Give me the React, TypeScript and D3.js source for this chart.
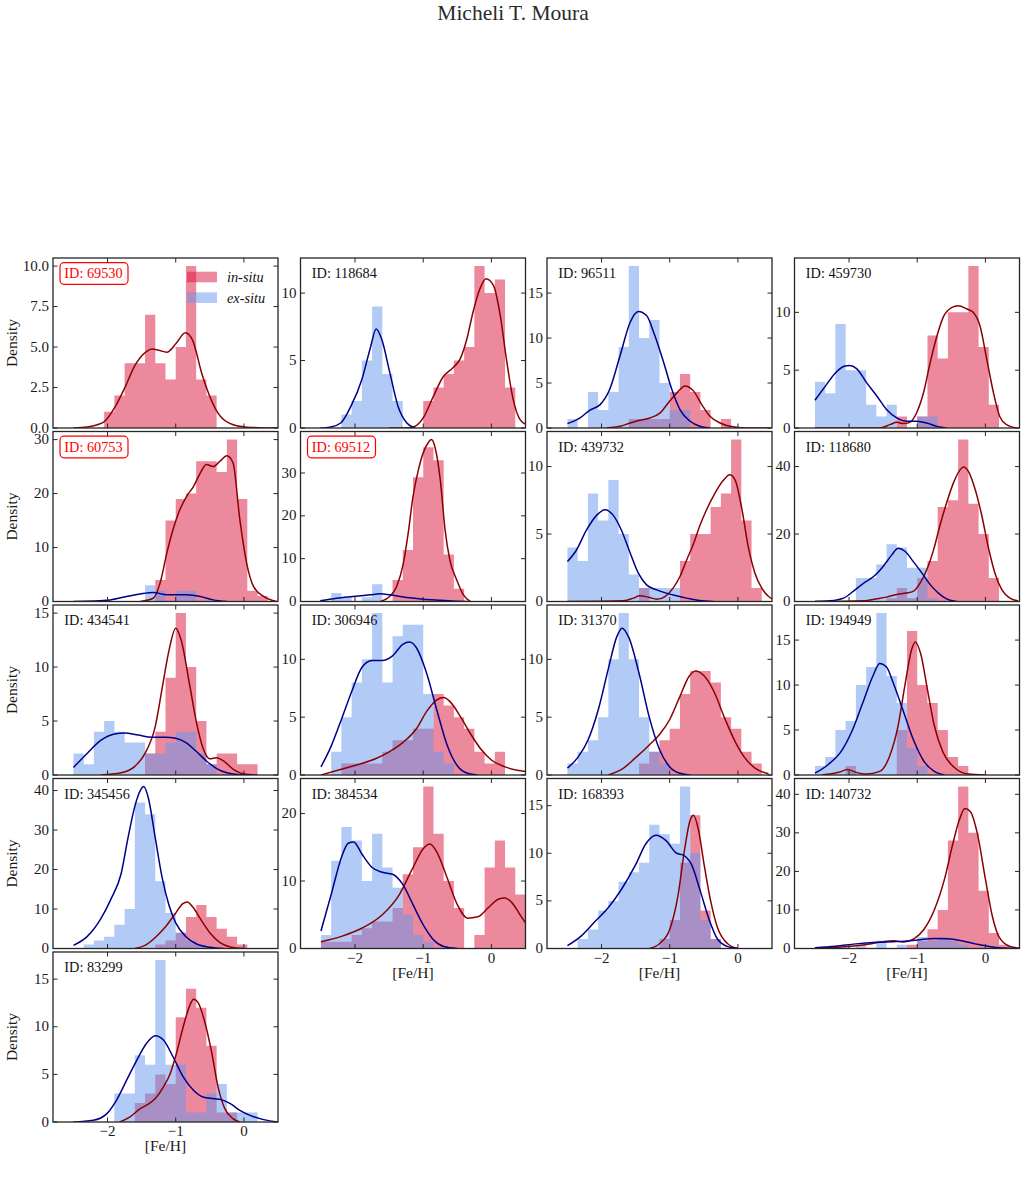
import React from "react";
import * as d3 from "d3";

// ---- chart data -------------------------------------------------------------
const TITLE = "Micheli T. Moura";
const X_LABEL = "[Fe/H]";
const Y_LABEL = "Density";
const LEGEND_LABELS = ["in-situ", "ex-situ"];

const PANEL_IDS = [
  "69530", "118684", "96511", "459730",
  "60753", "69512", "439732", "118680",
  "434541", "306946", "31370", "194949",
  "345456", "384534", "168393", "140732",
  "83299",
];
const HIGHLIGHTED_IDS = ["69530", "60753", "69512"];

const X_DOMAIN: [number, number] = [-2.8, 0.5];
const X_TICKS = [-2, -1, 0];
const Y_TICK_STEP = [2.5, 5, 5, 5, 10, 10, 5, 20, 5, 5, 5, 5, 10, 10, 5, 10, 5];

// histogram bins: BIN_START + k * BIN_WIDTH, k = 0..19
const BIN_START = -2.5;
const BIN_WIDTH = 0.15;

const IN_SITU_COUNTS = [
  [0, 0, 0, 1, 2, 4, 4, 7, 4, 3, 5, 10, 3, 2, 0, 0, 0, 0, 0, 0],
  [0, 0, 0, 0, 0, 0, 0, 0, 0, 0, 2, 3, 4, 5, 6, 12, 10, 11, 3, 0],
  [0, 0, 0, 0, 0, 0, 1, 1, 1, 1, 4, 6, 4, 2, 0, 1, 0, 0, 0, 0],
  [0, 0, 0, 0, 0, 0, 0, 0, 1, 0, 1, 8, 6, 10, 10, 14, 7, 2, 0, 0],
  [0, 0, 0, 0, 0, 0, 0, 0, 4, 15, 19, 20, 26, 26, 24, 30, 19, 2, 1, 0],
  [0, 0, 0, 0, 0, 0, 0, 5, 12, 29, 36, 33, 11, 3, 0, 0, 0, 0, 0, 0],
  [0, 0, 0, 0, 0, 0, 0, 1, 0, 0, 0, 3, 5, 5, 7, 8, 12, 6, 1, 0],
  [0, 0, 0, 0, 0, 0, 0, 1, 4, 1, 7, 12, 28, 30, 48, 29, 20, 7, 0, 0],
  [0, 0, 0, 0, 0, 0, 0, 2, 4, 9, 15, 10, 5, 1, 2, 2, 1, 1, 0, 0],
  [0, 0, 1, 1, 1, 1, 2, 3, 3, 4, 4, 7, 6, 5, 4, 2, 1, 2, 0, 0],
  [0, 0, 0, 0, 0, 0, 0, 1, 2, 3, 4, 7, 9, 9, 8, 5, 4, 2, 1, 0],
  [0, 0, 0, 1, 0, 0, 0, 0, 5, 16, 10, 8, 5, 2, 1, 0, 0, 0, 0, 0],
  [0, 0, 0, 0, 0, 0, 0, 0, 1, 2, 4, 8, 11, 8, 5, 3, 1, 0, 0, 0],
  [1, 1, 1, 2, 3, 4, 4, 6, 11, 15, 24, 17, 10, 6, 0, 2, 12, 16, 12, 8],
  [0, 0, 0, 0, 0, 0, 0, 0, 0, 1, 3, 9, 14, 4, 1, 0, 0, 0, 0, 0],
  [0, 0, 0, 0, 0, 0, 0, 0, 0, 1, 2, 5, 10, 28, 42, 30, 15, 4, 1, 0],
  [0, 0, 0, 0, 0, 0, 2, 3, 5, 4, 11, 14, 12, 8, 1, 1, 0, 0, 0, 0],
];

const EX_SITU_COUNTS = [
  [0, 0, 0, 0, 0, 0, 0, 0, 0, 0, 0, 0, 0, 0, 0, 0, 0, 0, 0, 0],
  [0, 0, 1, 2, 5, 9, 4, 2, 0, 0, 0, 0, 0, 0, 0, 0, 0, 0, 0, 0],
  [1, 0, 4, 2, 4, 9, 18, 10, 12, 5, 2, 2, 0, 0, 0, 0, 0, 0, 0, 0],
  [4, 3, 9, 5, 5, 2, 1, 2, 0, 0, 1, 1, 0, 0, 0, 0, 0, 0, 0, 0],
  [0, 0, 0, 0, 0, 0, 0, 3, 2, 0, 2, 2, 0, 0, 0, 0, 0, 0, 0, 0],
  [0, 2, 1, 0, 1, 4, 0, 0, 0, 0, 0, 0, 0, 0, 0, 0, 0, 0, 0, 0],
  [4, 3, 8, 6, 9, 5, 2, 1, 1, 1, 1, 0, 0, 0, 0, 0, 0, 0, 0, 0],
  [0, 0, 0, 0, 7, 7, 11, 17, 16, 10, 10, 1, 0, 0, 0, 0, 0, 0, 0, 0],
  [2, 1, 4, 5, 4, 3, 3, 2, 2, 3, 4, 4, 2, 1, 0, 0, 0, 0, 0, 0],
  [0, 2, 5, 8, 10, 14, 8, 12, 13, 13, 7, 2, 1, 0, 0, 0, 0, 0, 0, 0],
  [1, 2, 3, 5, 10, 14, 10, 5, 2, 1, 0, 0, 0, 0, 0, 0, 0, 0, 0, 0],
  [1, 2, 5, 6, 10, 12, 18, 11, 8, 3, 1, 0, 0, 0, 0, 0, 0, 0, 0, 0],
  [0, 1, 2, 3, 6, 10, 37, 34, 17, 9, 4, 2, 1, 0, 0, 0, 0, 0, 0, 0],
  [2, 13, 18, 16, 10, 17, 12, 9, 5, 2, 1, 0, 0, 0, 0, 0, 0, 0, 0, 0],
  [0, 1, 2, 4, 5, 7, 8, 9, 13, 12, 11, 17, 10, 3, 1, 0, 0, 0, 0, 0],
  [0, 0, 0, 0, 1, 0, 2, 0, 1, 0, 3, 2, 3, 2, 1, 0, 0, 0, 0, 0],
  [0, 0, 0, 0, 3, 3, 7, 6, 17, 6, 6, 1, 1, 3, 4, 1, 1, 1, 0, 0],
];

// smoothed density curves, [Fe/H, value] pairs
const IN_SITU_KDE: [number, number][][] = [
  [[-2.5, 0], [-2.3, 0.06], [-2.15, 0.2], [-2.04, 0.42], [-1.89, 1.3], [-1.74, 2.55], [-1.6, 3.85], [-1.43, 4.72], [-1.35, 4.88], [-1.25, 4.8], [-1.13, 4.68], [-0.99, 5.25], [-0.86, 5.88], [-0.75, 5.4], [-0.62, 3.4], [-0.5, 1.95], [-0.38, 0.92], [-0.2, 0.27], [0.04, 0.05], [0.5, 0]],
  [[-1.5, 0], [-1.19, 0.02], [-1.0, 0.75], [-0.85, 2.36], [-0.71, 3.78], [-0.56, 4.48], [-0.46, 5.1], [-0.36, 6.6], [-0.27, 8.58], [-0.17, 10.3], [-0.08, 11.07], [0.03, 10.57], [0.13, 8.33], [0.22, 5.1], [0.32, 2.1], [0.42, 0.62], [0.5, 0.3]],
  [[-1.93, 0], [-1.73, 0.19], [-1.58, 0.56], [-1.44, 0.86], [-1.29, 1.12], [-1.14, 1.68], [-1.0, 3.0], [-0.87, 4.1], [-0.78, 4.66], [-0.65, 4.1], [-0.53, 2.6], [-0.41, 1.3], [-0.26, 0.56], [-0.12, 0.19], [0.13, 0], [0.47, 0]],
  [[-2.5, 0], [-1.55, 0], [-1.4, 0.29], [-1.3, 0.49], [-1.2, 0.38], [-1.11, 0.49], [-1.01, 1.3], [-0.91, 3.0], [-0.81, 5.65], [-0.71, 7.97], [-0.62, 9.57], [-0.49, 10.43], [-0.4, 10.58], [-0.27, 10.29], [-0.18, 10.0], [-0.08, 8.84], [0.02, 5.94], [0.12, 3.0], [0.21, 1.0], [0.31, 0.29], [0.46, 0]],
  [[-1.52, 0], [-1.33, 0.6], [-1.23, 3.4], [-1.13, 9.0], [-1.04, 13.3], [-0.94, 17.0], [-0.84, 19.5], [-0.74, 21.3], [-0.64, 23.8], [-0.55, 25.4], [-0.45, 25.0], [-0.35, 26.0], [-0.25, 27.0], [-0.16, 25.7], [-0.06, 15.2], [0.04, 7.1], [0.14, 2.8], [0.29, 0.93], [0.48, 0]],
  [[-1.63, 0], [-1.49, 1.2], [-1.39, 3.5], [-1.29, 9.0], [-1.22, 16.0], [-1.15, 24.5], [-1.07, 30.8], [-1.0, 34.7], [-0.93, 37.0], [-0.88, 37.8], [-0.83, 36.2], [-0.75, 28.4], [-0.68, 16.8], [-0.61, 9.7], [-0.51, 5.1], [-0.41, 1.56], [-0.31, 0]],
  [[-2.5, 0], [-1.68, 0.05], [-1.53, 0.25], [-1.44, 0.42], [-1.31, 0.32], [-1.19, 0.17], [-1.07, 0.37], [-0.95, 0.99], [-0.85, 1.85], [-0.75, 3.1], [-0.65, 4.3], [-0.56, 5.6], [-0.46, 6.8], [-0.34, 8.0], [-0.21, 9.0], [-0.12, 9.4], [-0.04, 9.0], [0.06, 6.8], [0.15, 4.1], [0.25, 2.1], [0.35, 0.99], [0.45, 0.37], [0.5, 0.2]],
  [[-2.5, 0], [-1.79, 0.2], [-1.59, 0.8], [-1.45, 1.3], [-1.3, 2.1], [-1.16, 2.5], [-1.06, 3.0], [-0.96, 5.4], [-0.86, 9.4], [-0.76, 15.3], [-0.67, 22.3], [-0.57, 29.2], [-0.47, 35.1], [-0.37, 39.1], [-0.32, 39.9], [-0.25, 38.6], [-0.15, 33.2], [-0.05, 25.2], [0.04, 16.3], [0.14, 8.4], [0.24, 3.5], [0.36, 1.0], [0.48, 0.2]],
  [[-2.1, 0], [-1.8, 0.2], [-1.6, 0.8], [-1.45, 2.0], [-1.3, 4.5], [-1.2, 8.0], [-1.1, 11.5], [-1.0, 13.6], [-0.92, 12.5], [-0.8, 8.5], [-0.7, 5.0], [-0.6, 2.5], [-0.5, 1.5], [-0.4, 1.6], [-0.3, 1.3], [-0.15, 0.5], [0.0, 0.1], [0.2, 0]],
  [[-2.5, 0], [-2.2, 0.5], [-1.95, 0.9], [-1.7, 1.4], [-1.5, 2.0], [-1.3, 2.8], [-1.1, 4.0], [-0.95, 5.5], [-0.8, 6.5], [-0.7, 6.7], [-0.6, 6.3], [-0.45, 5.0], [-0.3, 3.5], [-0.15, 2.2], [0.0, 1.3], [0.2, 0.7], [0.5, 0.3]],
  [[-1.9, 0], [-1.7, 0.5], [-1.5, 1.5], [-1.3, 2.6], [-1.15, 3.5], [-1.0, 4.8], [-0.85, 6.8], [-0.72, 8.5], [-0.62, 9.0], [-0.5, 8.6], [-0.35, 7.2], [-0.2, 5.0], [-0.05, 3.0], [0.1, 1.5], [0.25, 0.6], [0.45, 0.1]],
  [[-2.4, 0], [-2.15, 0.3], [-2.02, 0.6], [-1.9, 0.3], [-1.75, 0.1], [-1.55, 0.4], [-1.4, 2.2], [-1.28, 5.5], [-1.18, 10.0], [-1.08, 14.0], [-1.03, 14.8], [-0.95, 13.5], [-0.85, 9.5], [-0.75, 5.5], [-0.62, 2.5], [-0.45, 0.8], [-0.25, 0.1], [0, 0]],
  [[-1.6, 0], [-1.45, 0.8], [-1.3, 2.8], [-1.15, 5.5], [-1.0, 9.0], [-0.9, 11.3], [-0.83, 11.8], [-0.75, 10.5], [-0.62, 7.0], [-0.5, 4.0], [-0.35, 1.5], [-0.2, 0.4], [0.0, 0]],
  [[-2.5, 1.0], [-2.2, 1.8], [-1.9, 3.0], [-1.6, 5.0], [-1.35, 8.0], [-1.15, 12.0], [-1.0, 14.8], [-0.9, 15.5], [-0.8, 14.3], [-0.65, 10.5], [-0.5, 6.5], [-0.35, 4.5], [-0.2, 4.7], [-0.05, 6.0], [0.1, 7.3], [0.2, 7.5], [0.3, 6.8], [0.42, 5.0], [0.5, 3.8]],
  [[-1.3, 0], [-1.15, 0.5], [-1.0, 2.0], [-0.88, 5.5], [-0.78, 10.5], [-0.7, 13.5], [-0.65, 14.0], [-0.58, 12.5], [-0.5, 9.0], [-0.4, 5.0], [-0.3, 2.2], [-0.15, 0.5], [0.0, 0]],
  [[-2.5, 0.1], [-2.1, 0.4], [-1.8, 0.9], [-1.55, 1.6], [-1.35, 2.0], [-1.2, 1.7], [-1.05, 2.5], [-0.9, 5.0], [-0.75, 10.0], [-0.6, 18.0], [-0.48, 27.0], [-0.38, 33.5], [-0.3, 36.3], [-0.22, 35.5], [-0.12, 30.0], [0.0, 18.0], [0.1, 8.5], [0.2, 3.0], [0.35, 0.6], [0.5, 0.1]],
  [[-1.82, 0], [-1.67, 0.53], [-1.52, 1.4], [-1.43, 1.76], [-1.3, 2.46], [-1.18, 3.69], [-1.08, 5.1], [-0.99, 7.2], [-0.89, 10.0], [-0.79, 12.3], [-0.74, 12.9], [-0.67, 12.5], [-0.57, 10.4], [-0.47, 7.2], [-0.38, 3.69], [-0.28, 1.4], [-0.16, 0.35], [-0.06, 0]],
];

const EX_SITU_KDE: [number, number][][] = [
  [],
  [[-2.51, 0], [-2.37, 0.05], [-2.21, 0.37], [-2.06, 1.62], [-1.9, 3.6], [-1.78, 5.85], [-1.69, 7.34], [-1.61, 6.59], [-1.49, 4.1], [-1.37, 1.62], [-1.24, 0.37], [-1.12, 0]],
  [[-2.5, 0.49], [-2.32, 1.1], [-2.17, 2.0], [-2.02, 2.6], [-1.88, 4.3], [-1.73, 8.0], [-1.58, 11.75], [-1.46, 12.95], [-1.34, 12.5], [-1.22, 10.3], [-1.09, 7.3], [-0.97, 4.3], [-0.85, 2.05], [-0.7, 0.75], [-0.56, 0.19], [-0.41, 0]],
  [[-2.5, 2.4], [-2.35, 3.6], [-2.21, 4.7], [-2.06, 5.36], [-1.99, 5.4], [-1.89, 5.13], [-1.74, 3.9], [-1.59, 2.75], [-1.45, 1.6], [-1.3, 0.87], [-1.16, 0.58], [-1.01, 0.58], [-0.86, 0.43], [-0.71, 0.14], [-0.57, 0]],
  [[-2.5, 0], [-1.96, 0.3], [-1.72, 0.93], [-1.52, 1.4], [-1.33, 1.67], [-1.13, 1.24], [-0.99, 1.24], [-0.84, 1.24], [-0.64, 0.93], [-0.45, 0.3], [-0.25, 0]],
  [[-2.51, 0.15], [-2.27, 0.78], [-2.03, 1.17], [-1.78, 1.56], [-1.63, 1.8], [-1.49, 1.56], [-1.24, 0.94], [-1.0, 0.55], [-0.75, 0.3], [-0.51, 0.08], [-0.36, 0]],
  [[-2.5, 2.96], [-2.37, 3.8], [-2.22, 5.3], [-2.07, 6.4], [-1.95, 6.8], [-1.83, 6.4], [-1.71, 5.3], [-1.58, 3.6], [-1.46, 2.1], [-1.34, 1.23], [-1.19, 0.86], [-1.05, 0.62], [-0.9, 0.42], [-0.75, 0.25], [-0.56, 0.07], [-0.36, 0]],
  [[-2.5, 0], [-2.28, 0.2], [-2.08, 1.0], [-1.94, 3.0], [-1.79, 5.4], [-1.64, 7.4], [-1.5, 10.4], [-1.37, 13.9], [-1.28, 15.8], [-1.18, 14.9], [-1.06, 11.9], [-0.93, 8.4], [-0.81, 5.0], [-0.69, 2.5], [-0.57, 0.8], [-0.42, 0]],
  [[-2.5, 0.7], [-2.3, 2.0], [-2.1, 3.2], [-1.9, 3.8], [-1.75, 3.9], [-1.55, 3.7], [-1.35, 3.5], [-1.15, 3.5], [-1.0, 3.4], [-0.85, 3.0], [-0.7, 2.2], [-0.55, 1.3], [-0.4, 0.6], [-0.25, 0.2], [-0.1, 0.05], [0.1, 0]],
  [[-2.5, 0.7], [-2.35, 2.5], [-2.2, 4.8], [-2.05, 7.2], [-1.9, 9.3], [-1.75, 9.9], [-1.6, 9.9], [-1.45, 10.3], [-1.3, 11.3], [-1.2, 11.5], [-1.1, 11.0], [-0.95, 8.8], [-0.8, 5.6], [-0.65, 2.6], [-0.5, 0.8], [-0.35, 0.15], [-0.2, 0]],
  [[-2.5, 0.6], [-2.35, 1.5], [-2.2, 3.0], [-2.05, 5.6], [-1.9, 9.2], [-1.78, 11.9], [-1.7, 12.7], [-1.6, 11.9], [-1.45, 8.8], [-1.3, 5.0], [-1.15, 2.2], [-1.0, 0.7], [-0.85, 0.15], [-0.7, 0]],
  [[-2.5, 0.2], [-2.3, 1.2], [-2.1, 2.8], [-1.95, 5.0], [-1.8, 8.0], [-1.65, 11.0], [-1.55, 12.4], [-1.45, 12.0], [-1.35, 10.2], [-1.2, 7.0], [-1.05, 3.8], [-0.9, 1.5], [-0.75, 0.4], [-0.6, 0]],
  [[-2.5, 0.8], [-2.3, 3.0], [-2.1, 7.5], [-1.95, 12.5], [-1.8, 19], [-1.7, 28], [-1.6, 36], [-1.52, 40], [-1.47, 41], [-1.4, 38], [-1.3, 28], [-1.2, 18], [-1.1, 11], [-1.0, 6.5], [-0.85, 3.0], [-0.7, 1.2], [-0.5, 0.3], [-0.3, 0]],
  [[-2.5, 2.6], [-2.35, 8.0], [-2.2, 13.5], [-2.1, 15.6], [-2.02, 15.8], [-1.9, 14.0], [-1.75, 12.0], [-1.6, 11.3], [-1.45, 11.0], [-1.3, 9.5], [-1.15, 6.5], [-1.0, 3.5], [-0.85, 1.3], [-0.7, 0.3], [-0.5, 0]],
  [[-2.5, 0.3], [-2.3, 1.3], [-2.1, 2.8], [-1.9, 4.3], [-1.7, 6.3], [-1.5, 8.8], [-1.35, 11.0], [-1.2, 11.9], [-1.05, 11.3], [-0.9, 10.0], [-0.8, 9.8], [-0.68, 8.8], [-0.55, 6.0], [-0.42, 3.0], [-0.3, 1.0], [-0.15, 0.2], [0.0, 0]],
  [[-2.5, 0.2], [-2.2, 0.6], [-1.9, 1.2], [-1.6, 1.6], [-1.3, 1.8], [-1.0, 2.2], [-0.75, 2.6], [-0.55, 2.5], [-0.35, 2.0], [-0.15, 1.2], [0.05, 0.5], [0.25, 0.1], [0.45, 0]],
  [[-2.5, 0], [-2.21, 0.18], [-2.01, 0.88], [-1.87, 2.28], [-1.72, 4.39], [-1.57, 6.5], [-1.43, 8.25], [-1.3, 9.06], [-1.18, 8.6], [-1.04, 6.85], [-0.89, 4.74], [-0.74, 3.34], [-0.6, 2.63], [-0.45, 2.46], [-0.33, 2.35], [-0.2, 1.93], [-0.06, 1.23], [0.09, 0.7], [0.29, 0.25], [0.5, 0]],
];

// ---- layout -----------------------------------------------------------------
const WIDTH = 1026;
const HEIGHT = 1179;
const N_COLS = 4;
const COL_LEFT = [53, 300.5, 547, 794.5];
const ROW_TOP = [258, 431.5, 605, 778.5, 952];
const PANEL_W = 225;
const PANEL_H = 170;

const FONT = "'Liberation Serif', 'Times New Roman', serif";
const FRAME = "#262626";
const IN_FILL = "crimson";
const EX_FILL = "cornflowerblue";
const IN_LINE = "#8b0000";
const EX_LINE = "#00008b";
const TICK_LEN = 4.5;

type Pt = [number, number];
type Scale = d3.ScaleLinear<number, number>;

// outline of a histogram as one stepped shape per run of non-empty bins
function histogramPath(counts: number[], x: Scale, y: Scale): string {
  const edge = (k: number) => x(BIN_START + k * BIN_WIDTH);
  const p = d3.path();
  let k = 0;
  while (k < counts.length) {
    if (counts[k] <= 0) {
      k++;
      continue;
    }
    p.moveTo(edge(k), y(0));
    while (k < counts.length && counts[k] > 0) {
      p.lineTo(edge(k), y(counts[k]));
      p.lineTo(edge(k + 1), y(counts[k]));
      k++;
    }
    p.lineTo(edge(k), y(0));
    p.closePath();
  }
  return p.toString();
}

function Panel({ index }: { index: number }) {
  const col = index % N_COLS;
  const row = Math.floor(index / N_COLS);
  const left = COL_LEFT[col];
  const top = ROW_TOP[row];
  const bottom = top + PANEL_H;
  const right = left + PANEL_W;
  const isBottom = index + N_COLS >= PANEL_IDS.length;
  const id = PANEL_IDS[index];
  const highlighted = HIGHLIGHTED_IDS.includes(id);

  const inCounts = IN_SITU_COUNTS[index];
  const exCounts = EX_SITU_COUNTS[index];
  const inKde = IN_SITU_KDE[index];
  const exKde = EX_SITU_KDE[index];

  const peak =
    d3.max([
      ...inCounts,
      ...exCounts,
      ...inKde.map((d) => d[1]),
      ...exKde.map((d) => d[1]),
    ]) ?? 1;
  const yTop = peak * 1.05;

  const x = d3.scaleLinear().domain(X_DOMAIN).range([left, right]);
  const y = d3.scaleLinear().domain([0, yTop]).range([bottom, top]);

  const step = Y_TICK_STEP[index];
  const yTicks = d3.range(0, yTop + 1e-9, step);
  const fmt = step % 1 !== 0 ? d3.format(".1f") : d3.format("d");
  const fmtX = (v: number) => (v < 0 ? "\u2212" + Math.abs(v) : String(v));

  const line = d3
    .line<Pt>()
    .x((d) => x(d[0]))
    .y((d) => y(d[1]))
    .curve(d3.curveMonotoneX);

  const clipId = `clip-${index}`;

  return (
    <g>
      <defs>
        <clipPath id={clipId}>
          <rect x={left} y={top} width={PANEL_W} height={PANEL_H} />
        </clipPath>
      </defs>
      <rect x={left} y={top} width={PANEL_W} height={PANEL_H} fill="white" />
      <g clipPath={`url(#${clipId})`}>
        <path d={histogramPath(inCounts, x, y)} fill={IN_FILL} fillOpacity={0.5} />
        <path d={histogramPath(exCounts, x, y)} fill={EX_FILL} fillOpacity={0.5} />
        {inKde.length > 0 && (
          <path d={line(inKde) ?? ""} fill="none" stroke={IN_LINE} strokeWidth={1.5} />
        )}
        {exKde.length > 0 && (
          <path d={line(exKde) ?? ""} fill="none" stroke={EX_LINE} strokeWidth={1.5} />
        )}
      </g>

      {/* ticks on all four sides, pointing inward */}
      {X_TICKS.map((t) => (
        <g key={`xt${t}`} stroke={FRAME} strokeWidth={1}>
          <line x1={x(t)} x2={x(t)} y1={bottom} y2={bottom - TICK_LEN} />
          <line x1={x(t)} x2={x(t)} y1={top} y2={top + TICK_LEN} />
        </g>
      ))}
      {yTicks.map((t) => (
        <g key={`yt${t}`} stroke={FRAME} strokeWidth={1}>
          <line x1={left} x2={left + TICK_LEN} y1={y(t)} y2={y(t)} />
          <line x1={right} x2={right - TICK_LEN} y1={y(t)} y2={y(t)} />
        </g>
      ))}
      <rect
        x={left}
        y={top}
        width={PANEL_W}
        height={PANEL_H}
        fill="none"
        stroke={FRAME}
        strokeWidth={1.3}
      />

      {yTicks.map((t) => (
        <text
          key={`yl${t}`}
          x={left - 4}
          y={y(t)}
          dy="0.3em"
          textAnchor="end"
          fontSize={15}
          fontFamily={FONT}
          fill="#1a1a1a"
        >
          {fmt(t)}
        </text>
      ))}

      {isBottom && (
        <g fontFamily={FONT} fill="#1a1a1a" textAnchor="middle">
          {X_TICKS.map((t) => (
            <text key={`xl${t}`} x={x(t)} y={bottom + 14} fontSize={15}>
              {fmtX(t)}
            </text>
          ))}
          <text x={(left + right) / 2} y={bottom + 29} fontSize={15.5}>
            {X_LABEL}
          </text>
        </g>
      )}

      {col === 0 && (
        <text
          transform={`translate(17, ${top + PANEL_H / 2}) rotate(-90)`}
          textAnchor="middle"
          fontSize={15.5}
          fontFamily={FONT}
          fill="#1a1a1a"
        >
          {Y_LABEL}
        </text>
      )}

      {highlighted && (
        <rect
          x={left + 7}
          y={top + 4.7}
          width={68}
          height={21.6}
          rx={4}
          fill="white"
          stroke="red"
          strokeWidth={1.2}
        />
      )}
      <text
        x={left + 11.3}
        y={top + 20}
        fontSize={14.3}
        fontFamily={FONT}
        fill={highlighted ? "red" : "#111"}
      >
        {`ID: ${id}`}
      </text>

      {index === 0 && (
        <g fontFamily={FONT} fontSize={14.3} fontStyle="italic" fill="#111">
          {LEGEND_LABELS.map((lab, j) => {
            const cy = top + 19 + j * 20.7;
            return (
              <g key={lab}>
                <rect
                  x={left + 134}
                  y={cy - 5.3}
                  width={30}
                  height={10.6}
                  fill={j === 0 ? IN_FILL : EX_FILL}
                  fillOpacity={0.5}
                />
                <text x={left + 174} y={cy + 5.3}>
                  {lab}
                </text>
              </g>
            );
          })}
        </g>
      )}
    </g>
  );
}

export default function App() {
  return (
    <svg
      width={WIDTH}
      height={HEIGHT}
      viewBox={`0 0 ${WIDTH} ${HEIGHT}`}
      style={{ position: "absolute", left: 0, top: 0, display: "block", background: "white" }}
    >
      <rect width={WIDTH} height={HEIGHT} fill="white" />
      <text
        x={513}
        y={20}
        textAnchor="middle"
        fontSize={21.5}
        fontFamily={FONT}
        fill="#2a2a2a"
      >
        {TITLE}
      </text>
      {PANEL_IDS.map((_, i) => (
        <Panel key={i} index={i} />
      ))}
    </svg>
  );
}
